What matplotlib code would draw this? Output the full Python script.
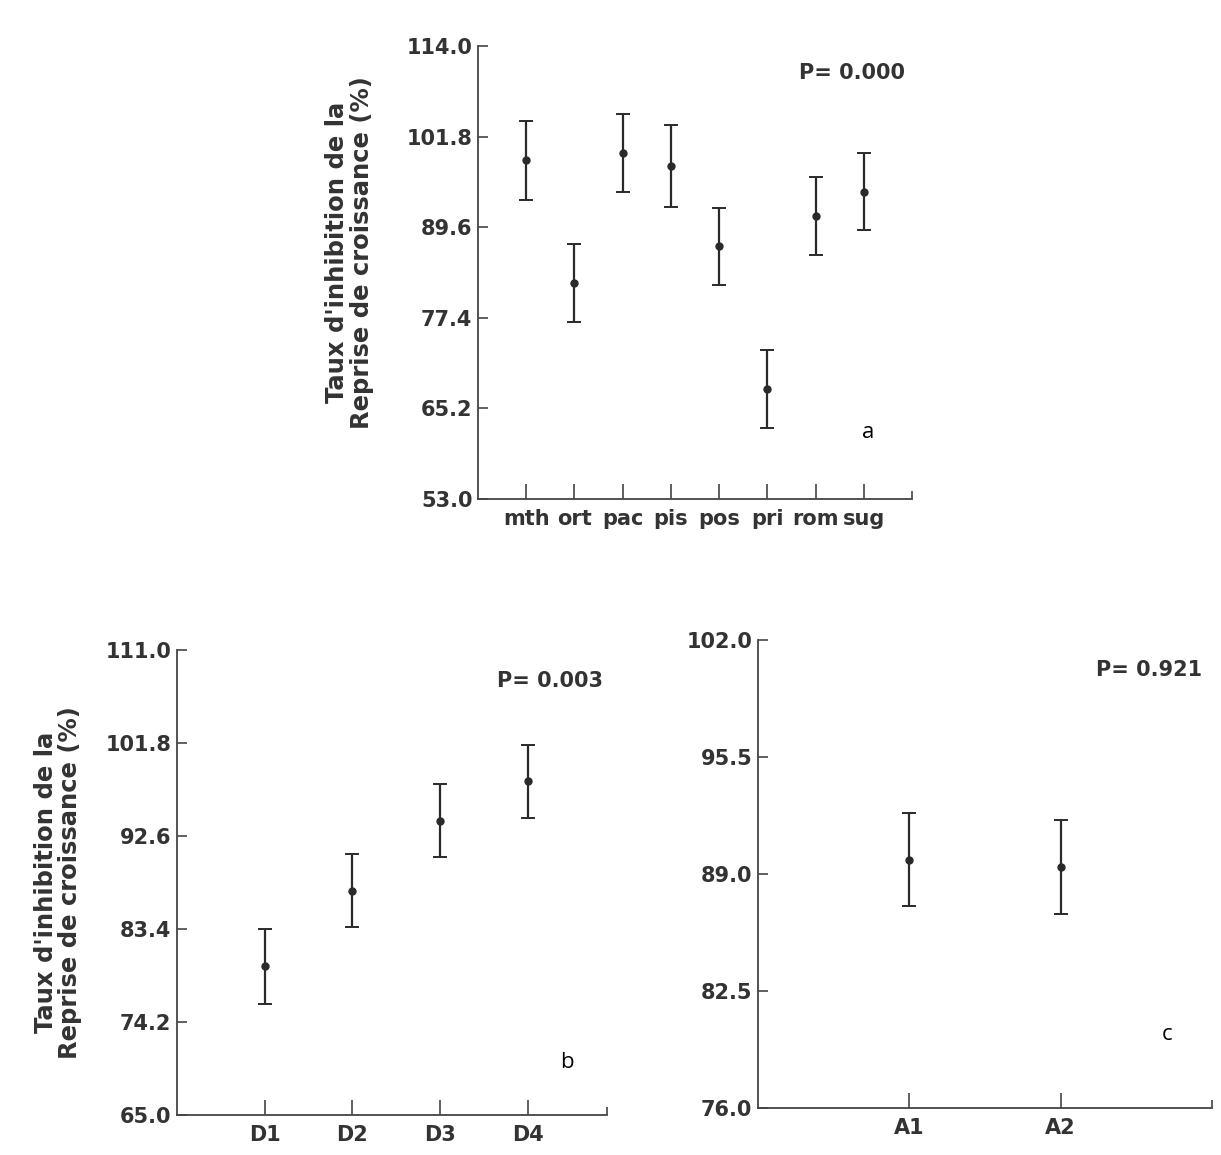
import matplotlib
matplotlib.use("Agg")
import matplotlib.pyplot as plt
import numpy as np

# panel a: species
species = ["mth", "ort", "pac", "pis", "pos", "pri", "rom", "sug"]
species_mean = [98.6, 82.1, 99.6, 97.8, 87.0, 67.8, 91.1, 94.4]
species_err = [5.3, 5.3, 5.3, 5.5, 5.2, 5.2, 5.2, 5.2]
species_yticks = [53.0, 65.2, 77.4, 89.6, 101.8, 114.0]

# panel b: doses
doses = ["D1", "D2", "D3", "D4"]
dose_mean = [79.7, 87.2, 94.1, 98.0]
dose_err = [3.7, 3.6, 3.6, 3.6]
dose_yticks = [65.0, 74.2, 83.4, 92.6, 101.8, 111.0]

# panel c: application
applis = ["A1", "A2"]
appli_mean = [89.8, 89.4]
appli_err = [2.6, 2.6]
appli_yticks = [76.0, 82.5, 89.0, 95.5, 102.0]

ylabel = "Taux d'inhibition de la\nReprise de croissance (%)"
BOLD = "DejaVu Sans"
INK = "#2a2a2a"
TXT = "#333333"


def draw_panel(ax, cats, means, errs, yticks, xmax, pval):
    x = np.arange(1, len(cats) + 1)
    ax.errorbar(x, means, yerr=errs, fmt="o", color=INK, ecolor=INK,
                markersize=5, elinewidth=1.6, capsize=5, capthick=1.4)
    ax.set_xlim(0, xmax)
    ax.set_ylim(yticks[0], yticks[-1])
    ax.set_yticks(yticks)
    ax.set_yticklabels([f"{v:.1f}" for v in yticks])
    ax.set_xticks(x)
    ax.set_xticklabels(cats)
    ax.set_xticks([xmax], minor=True)
    for side in ("top", "right"):
        ax.spines[side].set_visible(False)
    for side in ("left", "bottom"):
        ax.spines[side].set_color("#444444")
        ax.spines[side].set_linewidth(1.3)
    ax.tick_params(axis="y", direction="in", length=7, width=1.2,
                   color="#444444", pad=4)
    ax.tick_params(axis="x", which="major", direction="in", length=11,
                   width=1.2, color="#444444", pad=7)
    ax.tick_params(axis="x", which="minor", direction="in", length=6,
                   width=1.2, color="#444444")
    for lab in ax.get_xticklabels() + ax.get_yticklabels():
        lab.set_fontfamily(BOLD)
        lab.set_fontweight("bold")
        lab.set_fontsize(15)
        lab.set_color(TXT)
    ax.text(pval[0], pval[1], pval[2], transform=ax.transAxes, ha="right",
            va="center", fontsize=15, fontweight="bold", family=BOLD,
            color=TXT)


fig = plt.figure(figsize=(12.21, 11.55), dpi=100)

ax_a = fig.add_axes([0.3915, 0.568, 0.3555, 0.3922])
draw_panel(ax_a, species, species_mean, species_err, species_yticks, 9.0,
           (0.984, 0.940, "P= 0.000"))
ax_a.set_ylabel(ylabel, fontsize=17.5, fontweight="bold", family=BOLD,
                color=TXT, linespacing=1.05)
ax_a.yaxis.set_label_coords(-0.24, 0.545)

ax_b = fig.add_axes([0.145, 0.0346, 0.352, 0.4026])
draw_panel(ax_b, doses, dose_mean, dose_err, dose_yticks, 4.9,
           (0.99, 0.933, "P= 0.003"))
ax_b.set_ylabel(ylabel, fontsize=17.5, fontweight="bold", family=BOLD,
                color=TXT, linespacing=1.05)
ax_b.yaxis.set_label_coords(-0.22, 0.5)

ax_c = fig.add_axes([0.6208, 0.0407, 0.3718, 0.4052])
draw_panel(ax_c, applis, appli_mean, appli_err, appli_yticks, 3.0,
           (0.978, 0.936, "P= 0.921"))

# panel letters
for letter, (px, py) in {"a": (868, 432), "b": (567, 1062), "c": (1167, 1035)}.items():
    fig.text(px / 1221, 1 - py / 1155, letter, fontsize=16, family="Open Sans",
             ha="center", va="center", color="black")

fig.savefig("out.png", dpi=100)
